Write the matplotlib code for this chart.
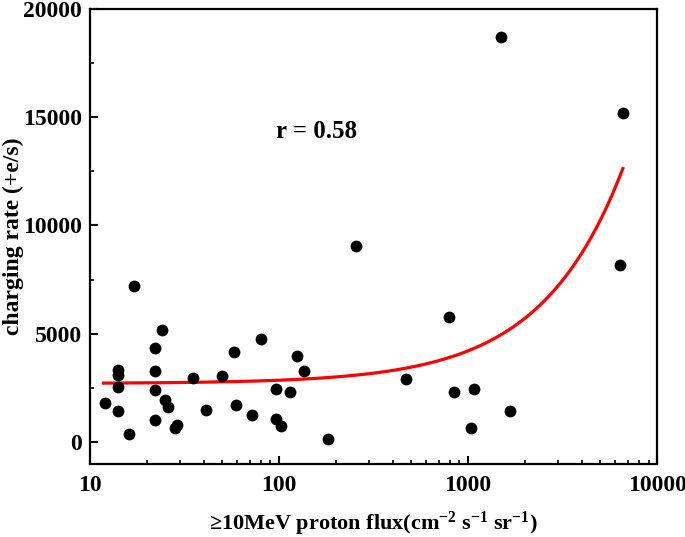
import numpy as np
import matplotlib
matplotlib.use('Agg')
from matplotlib import pyplot as plt
from matplotlib.ticker import LogLocator, NullFormatter, MultipleLocator

# data
flux = [12, 14, 14, 14, 14, 16, 17, 22, 22, 22, 22, 24, 25, 26, 28, 29, 35, 41, 50, 58,
        59, 72, 80, 96, 96, 103, 114, 124, 136, 182, 255, 470, 795, 843, 1075, 1040, 1660,
        1500, 6350, 6580]
rate = [1800, 3320, 3100, 2570, 1420, 390, 7200, 4370, 3280, 2420, 1030, 5200, 1970, 1650,
        660, 800, 2950, 1500, 3060, 4170, 1740, 1280, 4770, 2480, 1080, 770, 2300, 4000,
        3280, 160, 9070, 2940, 5800, 2310, 2440, 660, 1460, 18700, 8160, 15200]

# linear fit y = a + b*x (drawn on log x axis)
fit_intercept = 2712
fit_slope = 1.506
fit_range = [11.8, 6580]
r_text = "r = 0.58"

plt.rcParams['font.family'] = ['Liberation Serif', 'DejaVu Serif']
plt.rcParams['font.weight'] = 'bold'
plt.rcParams['mathtext.fontset'] = 'custom'
plt.rcParams['mathtext.rm'] = 'Liberation Serif:bold'
plt.rcParams['mathtext.default'] = 'rm'

fig = plt.figure(figsize=(6.85, 5.37), dpi=100)
ax = fig.add_axes([0.1314, 0.136, 0.828, 0.848])

ax.scatter(flux, rate, s=72, color='black', zorder=3, linewidths=0)

xf = np.logspace(np.log10(fit_range[0]), np.log10(fit_range[1]), 300)
ax.plot(xf, fit_intercept + fit_slope * xf, color='red', lw=2.3, zorder=2)

ax.set_xscale('log')
ax.set_xlim(10, 10000)
ax.set_ylim(-1000, 20000)
ax.set_yticks([0, 5000, 10000, 15000, 20000])
ax.yaxis.set_minor_locator(MultipleLocator(2500))
ax.xaxis.set_minor_locator(LogLocator(base=10, subs=np.arange(2, 10)))
ax.xaxis.set_minor_formatter(NullFormatter())
ax.set_xticks([10, 100, 1000, 10000])
ax.set_xticklabels(['10', '100', '1000', '10000'])

ax.tick_params(which='major', direction='in', length=6, width=1.5, labelsize=17)
ax.tick_params(axis='x', which='major', pad=8)
ax.tick_params(axis='y', which='major', pad=6)
ax.tick_params(which='minor', direction='in', length=3, width=1.2)
for s in ax.spines.values():
    s.set_linewidth(1.6)

ax.set_xlabel(r'≥10MeV proton flux(cm$^{-2}$ s$^{-1}$ sr$^{-1}$)', fontsize=16, fontweight='bold')
ax.xaxis.set_label_coords(0.5, -0.1)
ax.set_ylabel('charging rate (+e/s)', fontsize=17, fontweight='bold')
ax.yaxis.set_label_coords(-0.117, 0.5)
ax.text(0.399, 0.731, r_text, transform=ax.transAxes, fontsize=18, fontweight='bold', ha='center', va='center')

fig.savefig('out.png', dpi=100)
plt.close(fig)
